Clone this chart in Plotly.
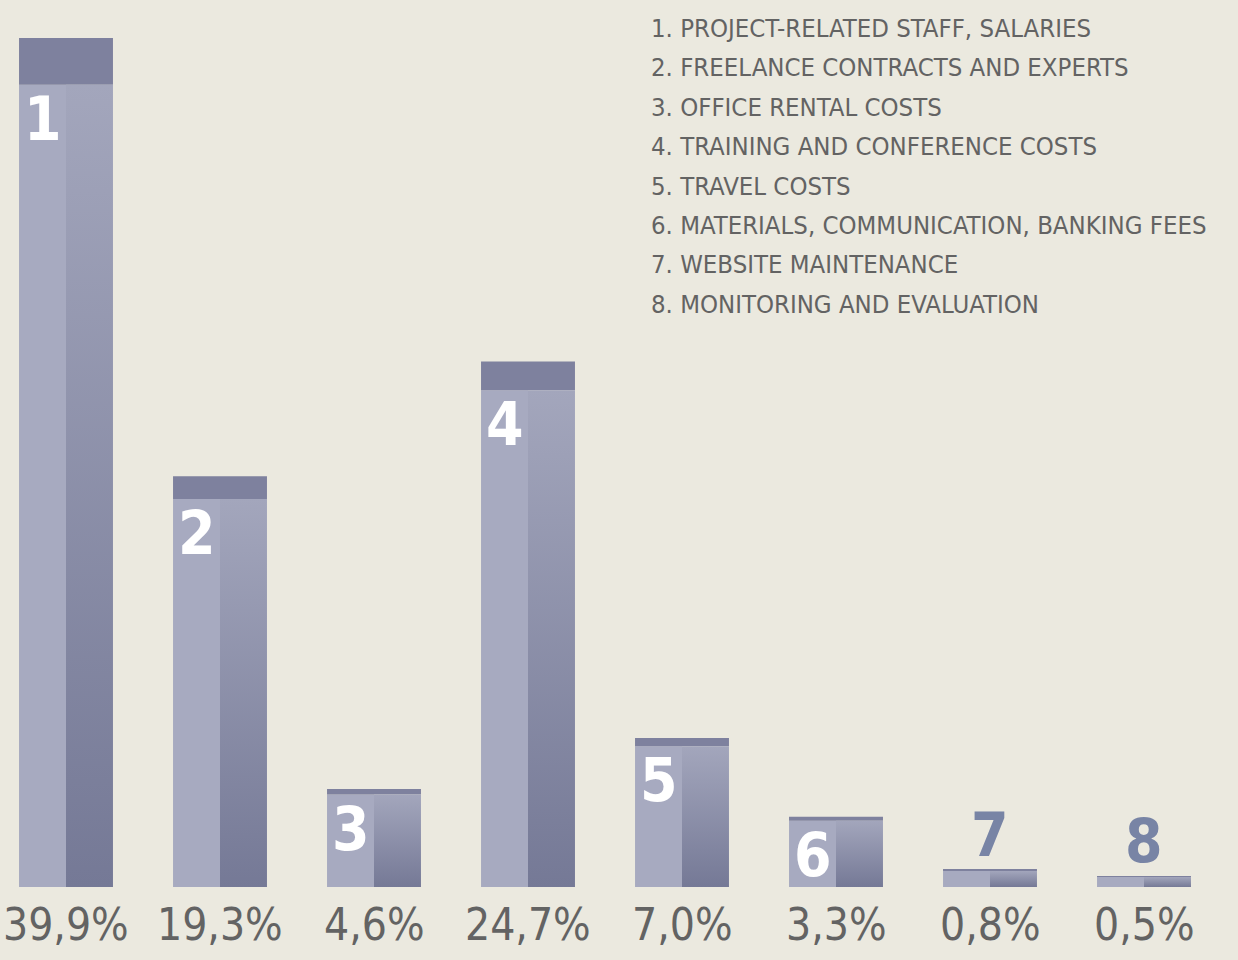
import plotly.graph_objects as go

# ---- data ----
categories = [
    "PROJECT-RELATED STAFF, SALARIES",
    "FREELANCE CONTRACTS AND EXPERTS",
    "OFFICE RENTAL COSTS",
    "TRAINING AND CONFERENCE COSTS",
    "TRAVEL COSTS",
    "MATERIALS, COMMUNICATION, BANKING FEES",
    "WEBSITE MAINTENANCE",
    "MONITORING AND EVALUATION",
]
bar_numbers = ["1", "2", "3", "4", "5", "6", "7", "8"]
values = [39.9, 19.3, 4.6, 24.7, 7.0, 3.3, 0.8, 0.5]
pct_labels = ["39,9%", "19,3%", "4,6%", "24,7%", "7,0%", "3,3%", "0,8%", "0,5%"]

# ---- style ----
BG = "#EBE9DF"
LEFT = "#A7AAC0"
GRAD_TOP = "#A3A6BC"
GRAD_BOTTOM = "#757996"
CAP_COLOR = "#7E819E"
OUT_NUM = "#7884A5"
TEXT = "#636363"
FONT = "Liberation Sans Narrow, DejaVu Sans Condensed, Arial Narrow, sans-serif"
HALF = 0.305
CAP = 0.055
W, H = 1238, 960
PLOT_H = 887
PX_PER_UNIT = 154.0

x = list(range(len(values)))
body = [v * (1 - CAP) for v in values]
caps = [v * CAP for v in values]

fig = go.Figure()

# left halves (flat)
fig.add_trace(go.Bar(
    x=x, y=body, width=HALF, offset=-HALF,
    marker=dict(color=LEFT, line=dict(width=0)),
    hoverinfo="skip", showlegend=False,
))
# caps
fig.add_trace(go.Bar(
    x=x, y=caps, base=body, width=2 * HALF, offset=-HALF,
    marker=dict(color=CAP_COLOR, line=dict(width=0)),
    hoverinfo="skip", showlegend=False,
))
# right halves with vertical gradient
for i, top in zip(x, body):
    fig.add_trace(go.Scatter(
        x=[i, i + HALF, i + HALF, i, i],
        y=[0, 0, top, top, 0],
        mode="lines", line=dict(width=0, color=GRAD_BOTTOM),
        fill="toself",
        fillgradient=dict(type="vertical",
                          colorscale=[[0, GRAD_BOTTOM], [1, GRAD_TOP]]),
        hoverinfo="skip", showlegend=False,
    ))

ann = []
for i, v, b, num, pct in zip(x, values, body, bar_numbers, pct_labels):
    if v >= 2:
        ann.append(dict(x=i - HALF / 2, y=b, xref="x", yref="y",
                        text=num, showarrow=False, yanchor="top", xanchor="center",
                        yshift=3,
                        font=dict(family=FONT, size=60, color="white", weight="bold")))
    else:
        ann.append(dict(x=i, y=v, xref="x", yref="y",
                        text=num, showarrow=False, yanchor="bottom", xanchor="center",
                        yshift=-2,
                        font=dict(family=FONT, size=60, color=OUT_NUM, weight="bold")))
    ann.append(dict(x=i, y=0, xref="x", yref="y", text=pct, showarrow=False,
                    yanchor="top", xanchor="center", yshift=-10,
                    font=dict(family=FONT, size=44, color=TEXT)))

LINE0 = 28
LINE_STEP = 39.4
for k, (num, cat) in enumerate(zip(bar_numbers, categories)):
    ann.append(dict(x=649 / W, y=1 - (LINE0 + k * LINE_STEP) / PLOT_H,
                    xref="paper", yref="paper", text=f"{num}. {cat}",
                    showarrow=False, xanchor="left", yanchor="middle",
                    font=dict(family=FONT, size=25.5, color=TEXT)))

x0 = -66 / PX_PER_UNIT
fig.update_layout(
    width=W, height=H,
    margin=dict(l=0, r=0, t=0, b=H - PLOT_H, pad=0),
    paper_bgcolor=BG, plot_bgcolor=BG,
    barmode="overlay",
    showlegend=False,
    xaxis=dict(range=[x0, x0 + W / PX_PER_UNIT], visible=False, fixedrange=True),
    yaxis=dict(range=[0, PLOT_H / (849 / 39.9)], visible=False, fixedrange=True),
    annotations=ann,
)

fig.write_html(
    "out.html",
    config={"displayModeBar": False},
    post_script="document.body.style.margin='0';document.body.style.overflow='hidden';",
)
